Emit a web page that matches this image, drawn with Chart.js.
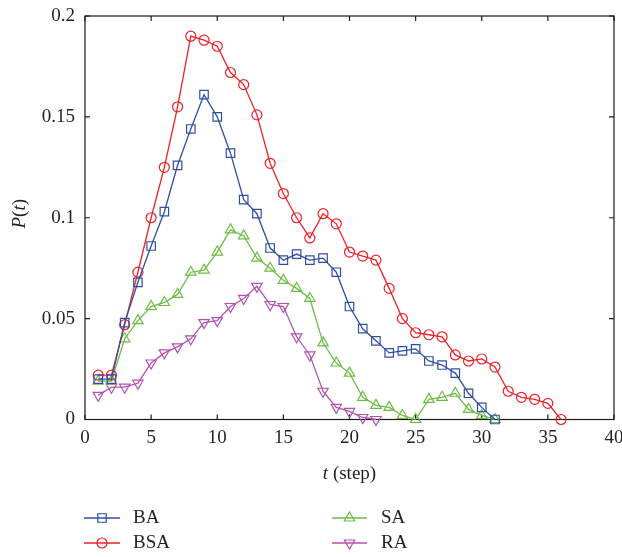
<!DOCTYPE html>
<html><head><meta charset="utf-8">
<script src="https://cdn.jsdelivr.net/npm/chart.js@4.4.1/dist/chart.umd.min.js"></script>
<style>html,body{margin:0;padding:0;background:#fff}#wrap{width:622px;height:557px;position:relative}</style>
</head><body><div id="wrap"><canvas id="c" width="622" height="557"></canvas></div>
<script>
const steps = [1,2,3,4,5,6,7,8,9,10,11,12,13,14,15,16,17,18,19,20,21,22,23,24,25,26,27,28,29,30,31,32,33,34,35,36];
const BA  = [0.020,0.020,0.048,0.068,0.086,0.103,0.126,0.144,0.161,0.150,0.132,0.109,0.102,0.085,0.079,0.082,0.079,0.080,0.073,0.056,0.045,0.039,0.033,0.034,0.035,0.029,0.027,0.023,0.013,0.006,0.000];
const BSA = [0.022,0.022,0.047,0.073,0.100,0.125,0.155,0.190,0.188,0.185,0.172,0.166,0.151,0.127,0.112,0.100,0.090,0.102,0.097,0.083,0.081,0.079,0.065,0.050,0.043,0.042,0.041,0.032,0.029,0.030,0.026,0.014,0.011,0.010,0.008,0.000];
const SA  = [0.019,0.019,0.040,0.049,0.056,0.058,0.062,0.073,0.074,0.083,0.094,0.091,0.080,0.075,0.069,0.065,0.060,0.038,0.028,0.023,0.011,0.007,0.006,0.002,0.000,0.010,0.011,0.013,0.005,0.002,0.000];
const RA  = [0.012,0.016,0.016,0.018,0.028,0.033,0.036,0.040,0.048,0.049,0.056,0.060,0.066,0.057,0.056,0.041,0.032,0.014,0.006,0.004,0.001,0.000];
const xTickLabels = ['0','5','10','15','20','25','30','35','40'];
const yTickLabels = ['0','0.05','0.1','0.15','0.2'];
const seriesNames = ['BA','BSA','SA','RA'];

const FONT = '"Liberation Serif", "DejaVu Serif", serif';
const TXT = '#231f20';
const colors = {BA:'#2f4fa3', BSA:'#ee2128', SA:'#6dbd45', RA:'#b452b0'};
const styles = {
  BA:{pointStyle:'rect', radius:6, rotation:0},
  BSA:{pointStyle:'circle', radius:5, rotation:0},
  SA:{pointStyle:'triangle', radius:6, rotation:0},
  RA:{pointStyle:'triangle', radius:6, rotation:180}
};
const seriesData = {BA, BSA, SA, RA};

function mk(name){
  const vals = seriesData[name];
  const st = styles[name];
  return {
    label: name,
    data: vals.map((v,i)=>({x:steps[i], y:v})),
    borderColor: colors[name],
    backgroundColor: 'rgba(0,0,0,0)',
    borderWidth: 1.3,
    pointStyle: st.pointStyle,
    pointRadius: st.radius,
    pointRotation: st.rotation,
    pointBorderWidth: 1.2,
    pointBorderColor: colors[name],
    pointBackgroundColor: 'rgba(0,0,0,0)',
    tension: 0,
    fill: false,
    clip: false
  };
}

function drawMarker(ctx, style, x, y, r, rot){
  ctx.beginPath();
  if (style === 'rect'){
    const s = Math.SQRT1_2 * r;
    ctx.rect(x - s, y - s, 2*s, 2*s);
  } else if (style === 'circle'){
    ctx.arc(x, y, r, 0, Math.PI*2);
  } else {
    let rad = rot * Math.PI/180;
    ctx.moveTo(x + Math.sin(rad)*r, y - Math.cos(rad)*r);
    rad += 2*Math.PI/3;
    ctx.lineTo(x + Math.sin(rad)*r, y - Math.cos(rad)*r);
    rad += 2*Math.PI/3;
    ctx.lineTo(x + Math.sin(rad)*r, y - Math.cos(rad)*r);
    ctx.closePath();
  }
  ctx.stroke();
}

function drawMixed(ctx, parts, cx, cy){
  let total = 0;
  parts.forEach(p=>{ ctx.font = p.f; p.w = ctx.measureText(p.t).width; total += p.w; });
  let x = cx - total/2;
  parts.forEach(p=>{ ctx.font = p.f; ctx.fillText(p.t, x, cy); x += p.w; });
}

const framePlugin = {
  id: 'frame',
  beforeDatasetsDraw(chart){
    const {ctx, chartArea:a, scales:{x, y}} = chart;
    ctx.save();
    ctx.strokeStyle = '#1a1a1a';
    ctx.lineWidth = 1.2;
    ctx.strokeRect(a.left, a.top, a.right - a.left, a.bottom - a.top);
    const tl = 5;
    ctx.beginPath();
    x.ticks.forEach(t=>{
      const px = x.getPixelForValue(t.value);
      ctx.moveTo(px, a.bottom); ctx.lineTo(px, a.bottom - tl);
      ctx.moveTo(px, a.top); ctx.lineTo(px, a.top + tl);
    });
    y.ticks.forEach(t=>{
      const py = y.getPixelForValue(t.value);
      ctx.moveTo(a.left, py); ctx.lineTo(a.left + tl, py);
      ctx.moveTo(a.right, py); ctx.lineTo(a.right - tl, py);
    });
    ctx.stroke();
    ctx.restore();
  },
  afterDraw(chart){
    const {ctx, chartArea:a} = chart;
    ctx.save();
    ctx.fillStyle = TXT;
    ctx.textBaseline = 'middle';
    ctx.textAlign = 'left';
    // x title
    drawMixed(ctx, [{t:'t', f:'italic 19px ' + FONT}, {t:' (step)', f:'19px ' + FONT}], (a.left + a.right)/2, 474);
    // y title
    ctx.save();
    ctx.translate(20, (a.top + a.bottom)/2 - 4);
    ctx.rotate(-Math.PI/2);
    drawMixed(ctx, [{t:'P', f:'italic 19px ' + FONT}, {t:'(', f:'19px ' + FONT}, {t:'t', f:'italic 19px ' + FONT}, {t:')', f:'19px ' + FONT}], 0, 0);
    ctx.restore();
    // legend
    const pos = [
      {x1:84, x2:120, tx:133, y:518},
      {x1:84, x2:120, tx:133, y:543},
      {x1:332, x2:367, tx:381, y:518},
      {x1:332, x2:367, tx:381, y:543}
    ];
    chart.data.datasets.forEach((ds, i)=>{
      const p = pos[i];
      const st = styles[ds.label];
      ctx.strokeStyle = ds.borderColor;
      ctx.lineWidth = 1.3;
      ctx.beginPath(); ctx.moveTo(p.x1, p.y); ctx.lineTo(p.x2, p.y); ctx.stroke();
      ctx.lineWidth = 1.2;
      const mx = i < 2 ? 102 : (p.x1 + p.x2)/2;
      drawMarker(ctx, st.pointStyle, mx, p.y, st.radius, st.rotation);
      ctx.fillStyle = TXT;
      ctx.font = '19px ' + FONT;
      ctx.fillText(ds.label, p.tx, p.y);
    });
    ctx.restore();
  }
};

new Chart(document.getElementById('c'), {
  type: 'line',
  data: { datasets: seriesNames.map(mk) },
  options: {
    responsive: false,
    animation: false,
    layout: { padding: { top: 16, left: 0, right: 0, bottom: 0 } },
    plugins: { legend: { display: false }, tooltip: { enabled: false } },
    scales: {
      x: {
        type: 'linear', min: 0, max: 40,
        grid: { display: false, drawTicks: false },
        border: { display: false },
        ticks: { stepSize: 5, padding: 7, color: TXT, font: { family: FONT, size: 19 },
                 callback: (v, i) => xTickLabels[i] },
        afterFit(s){ s.height = 137.5; s.paddingRight = 8; s.paddingLeft = 0; }
      },
      y: {
        type: 'linear', min: 0, max: 0.2,
        grid: { display: false, drawTicks: false },
        border: { display: false },
        ticks: { stepSize: 0.05, padding: 10, color: TXT, font: { family: FONT, size: 19 },
                 callback: (v, i) => yTickLabels[i] },
        afterFit(s){ s.width = 85; s.paddingTop = 0; s.paddingBottom = 0; }
      }
    }
  },
  plugins: [framePlugin]
});
</script>
</body></html>
